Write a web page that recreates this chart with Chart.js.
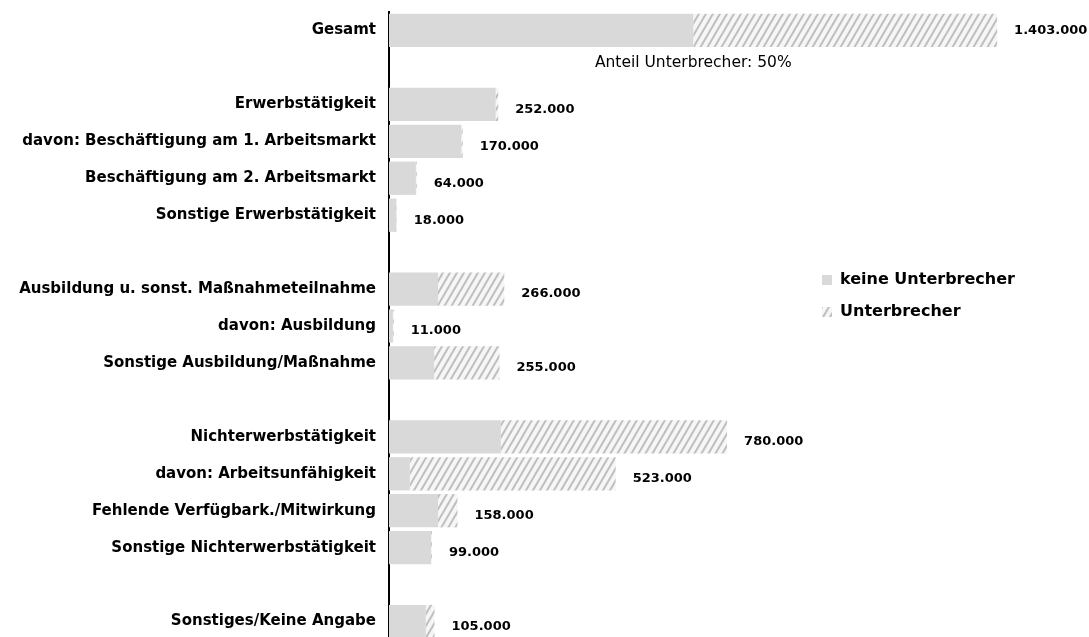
<!DOCTYPE html>
<html lang="de">
<head>
<meta charset="utf-8">
<title>Unterbrecher nach Status</title>
<script src="https://cdn.jsdelivr.net/npm/chart.js@4.4.1/dist/chart.umd.min.js"></script>
<style>
    html, body { margin: 0; padding: 0; background: #fff; overflow: hidden; }
    #wrap { position: relative; width: 1089px; height: 650px; }
</style>
</head>
<body>
<div id="wrap"><canvas id="chartUnterbrecher"></canvas></div>
<script>
// Kategorien (leere Einträge = Abstandszeilen)
const kategorien = [
    'Gesamt', '',
    'Erwerbstätigkeit', 'davon: Beschäftigung am 1. Arbeitsmarkt', 'Beschäftigung am 2. Arbeitsmarkt', 'Sonstige Erwerbstätigkeit', '',
    'Ausbildung u. sonst. Maßnahmeteilnahme', 'davon: Ausbildung', 'Sonstige Ausbildung/Maßnahme', '',
    'Nichterwerbstätigkeit', 'davon: Arbeitsunfähigkeit', 'Fehlende Verfügbark./Mitwirkung', 'Sonstige Nichterwerbstätigkeit', '',
    'Sonstiges/Keine Angabe'
];
const keineUnterbrecher = [702000, null, 246000, 167000, 62000, 17000, null, 113000, 9000, 104000, null, 258000, 48000, 113000, 97000, null, 85000];
const unterbrecher      = [701000, null, 6000, 3000, 2000, 1000, null, 153000, 2000, 151000, null, 522000, 475000, 45000, 2000, null, 20000];
const xMax = 1615000;

const FONT = '"DejaVu Sans", "Liberation Sans", Arial, sans-serif';
Chart.defaults.font.family = FONT;
Chart.defaults.color = '#000';

function formatDe(n) {
    return String(Math.round(n)).replace(/\B(?=(\d{3})+(?!\d))/g, '.');
}

// Schraffur für "Unterbrecher"
function schraffur(ctx) {
    const c = document.createElement('canvas');
    c.width = 7; c.height = 12;
    const g = c.getContext('2d');
    g.fillStyle = '#f6f6f6';
    g.fillRect(0, 0, 7, 12);
    g.strokeStyle = '#bfbfbf';
    g.lineWidth = 2;
    g.beginPath();
    [-7, 0, 7].forEach(dx => {
        g.moveTo(dx - 1, 12 + 12 / 7);
        g.lineTo(dx + 8, -12 / 7);
    });
    g.stroke();
    return ctx.createPattern(c, 'repeat');
}

// Summen rechts neben den Balken + Anteil-Beschriftung
const wertePlugin = {
    id: 'werte',
    afterDatasetsDraw(chart) {
        const ctx = chart.ctx;
        const xs = chart.scales.x, ys = chart.scales.y;
        ctx.save();
        ctx.font = 'bold 13px ' + FONT;
        ctx.fillStyle = '#000';
        ctx.textAlign = 'left';
        ctx.textBaseline = 'middle';
        kategorien.forEach((k, i) => {
            if (keineUnterbrecher[i] == null) return;
            const summe = keineUnterbrecher[i] + (unterbrecher[i] || 0);
            const x = xs.getPixelForValue(summe) + 17;
            const y = ys.getPixelForValue(i) + (i === 0 ? 0 : 5);
            ctx.fillText(formatDe(summe), x, y);
        });
        // Anteil Unterbrecher beim Gesamtbalken
        const gesamt = keineUnterbrecher[0] + unterbrecher[0];
        const anteil = Math.round(unterbrecher[0] / gesamt * 100);
        ctx.font = '15.5px ' + FONT;
        ctx.textAlign = 'center';
        ctx.fillText('Anteil Unterbrecher: ' + anteil + '%', xs.getPixelForValue(keineUnterbrecher[0]), ys.getPixelForValue(0) + 32);
        ctx.restore();
    }
};

// Legende in die Mitte rechts verschieben
const legendePlugin = {
    id: 'legendePos',
    afterLayout(chart) {
        const lg = chart.legend;
        if (!lg) return;
        lg.left = 806;
        lg.top = 256;
        lg.right = lg.left + lg.width;
        lg.bottom = lg.top + lg.height;
    }
};

const canvas = document.getElementById('chartUnterbrecher');
const ctx = canvas.getContext('2d');

new Chart(ctx, {
    type: 'bar',
    data: {
        labels: kategorien,
        datasets: [
            {
                label: 'keine Unterbrecher',
                data: keineUnterbrecher,
                backgroundColor: '#d9d9d9',
                borderWidth: 0
            },
            {
                label: 'Unterbrecher',
                data: unterbrecher,
                backgroundColor: schraffur(ctx),
                borderWidth: 0
            }
        ]
    },
    options: {
        indexAxis: 'y',
        responsive: true,
        maintainAspectRatio: false,
        animation: false,
        datasets: { bar: { barPercentage: 0.9, categoryPercentage: 1 } },
        layout: { padding: { top: 12, bottom: 10, left: 0, right: 0 } },
        scales: {
            x: {
                stacked: true,
                min: 0,
                max: xMax,
                display: false
            },
            y: {
                stacked: true,
                grid: { display: false, drawTicks: false },
                border: { display: true, color: '#000', width: 2 },
                ticks: {
                    font: { size: 15, weight: 'bold' },
                    color: '#000',
                    padding: 13,
                    autoSkip: false
                },
                afterFit(scale) {
                    scale.width = 389;
                    // keine Zusatzabstände für halbe Beschriftungshöhe
                    scale.paddingTop = 0;
                    scale.paddingBottom = 0;
                }
            }
        },
        plugins: {
            legend: {
                position: 'chartArea',
                align: 'start',
                labels: {
                    boxWidth: 10,
                    boxHeight: 10,
                    padding: 16,
                    color: '#000',
                    font: { size: 16, weight: 'bold' }
                }
            },
            tooltip: { enabled: false }
        }
    },
    plugins: [wertePlugin, legendePlugin]
});
</script>
</body>
</html>
